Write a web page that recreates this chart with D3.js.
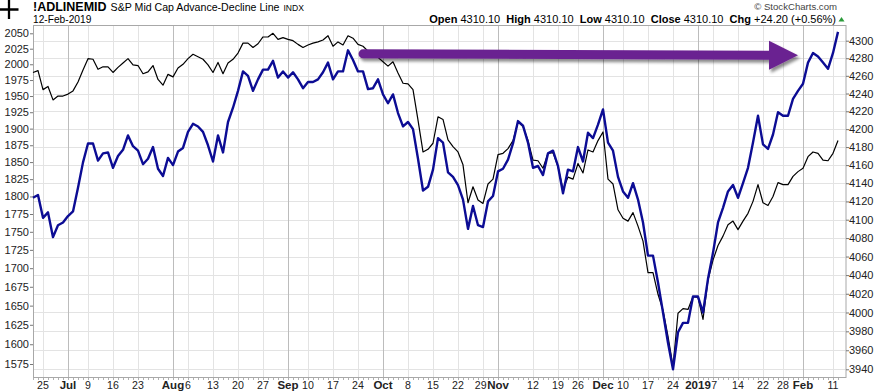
<!DOCTYPE html>
<html lang="en">

<head>
    <meta charset="UTF-8">
    <title>S&P Mid Cap Advance-Decline Line</title>
    <script src="https://cdn.jsdelivr.net/npm/d3@7"></script>
    <style>
        body { margin: 0; background: #fff; }
        svg { display: block; font-family: Arial, "Liberation Sans", sans-serif; }
    </style>
</head>

<body>
    <svg id="chart" width="878" height="392"></svg>

    <script>
        // trading calendar (NYSE closed on these weekdays)
        var firstDay = "2018-06-21";
        var lastDay = "2019-02-12";
        var holidays = ["2018-07-04", "2018-09-03", "2018-11-22", "2018-12-05",
            "2018-12-25", "2019-01-01", "2019-01-21"];

        // S&P MidCap 400 close, left axis (black)
        var midPrice = [1987, 1990, 1960, 1965, 1944, 1950, 1950, 1953, 1958, 1972,
            1991, 2009, 2008, 1992, 1996, 1996, 1987, 1995, 2002, 2009,
            1999, 1998, 1985, 1988, 1998, 1976, 1967, 1984, 1980, 1994,
            2000, 2009, 2016, 2012, 2008, 1999, 1987, 2003, 1985, 2002,
            2008, 2018, 2034, 2034, 2027, 2033, 2044, 2044, 2050, 2040,
            2043, 2040, 2038, 2032, 2027, 2031, 2034, 2036, 2039, 2046,
            2029, 2036, 2031, 2046, 2042, 2032, 2029, 2021, 2016, 2011,
            2004, 1997, 2004, 1986, 1970, 1969, 1960, 1913, 1865, 1869,
            1878, 1918, 1914, 1883, 1873, 1865, 1846, 1791, 1814, 1795,
            1790, 1818, 1825, 1861, 1863, 1870, 1882, 1910, 1903, 1882,
            1853, 1852, 1841, 1863, 1864, 1843, 1810, 1828, 1825, 1848,
            1834, 1868, 1865, 1882, 1895, 1825, 1818, 1781, 1769, 1765,
            1777, 1758, 1737, 1694, 1694, 1665, 1644, 1610, 1572, 1640,
            1646, 1645, 1662, 1661, 1632, 1684, 1711, 1731, 1744, 1760,
            1765, 1753, 1765, 1776, 1793, 1817, 1791, 1787, 1800, 1820,
            1817, 1817, 1829, 1836, 1841, 1858, 1865, 1863, 1853, 1852,
            1863, 1882];

        // !ADLINEMID, right axis (blue)
        var adLine = [4124, 4127, 4102, 4108, 4081, 4094, 4097, 4104, 4109, 4135,
            4163, 4184, 4184, 4165, 4173, 4174, 4157, 4170, 4177, 4193,
            4181, 4176, 4161, 4167, 4180, 4156, 4148, 4168, 4160, 4175,
            4179, 4197, 4206, 4203, 4197, 4182, 4164, 4193, 4174, 4208,
            4224, 4243, 4265, 4260, 4243, 4256, 4267, 4267, 4277, 4258,
            4265, 4258, 4264, 4256, 4246, 4253, 4253, 4256, 4264, 4275,
            4256, 4265, 4265, 4289, 4278, 4265, 4265, 4245, 4246, 4256,
            4239, 4229, 4239, 4218, 4203, 4208, 4200, 4167, 4132, 4136,
            4155, 4190, 4185, 4152, 4147, 4138, 4122, 4090, 4115, 4094,
            4092, 4120, 4126, 4153, 4156, 4166, 4184, 4209, 4204, 4185,
            4157, 4159, 4149, 4173, 4176, 4159, 4129, 4155, 4153, 4180,
            4164, 4196, 4190, 4205, 4222, 4185, 4176, 4147, 4131, 4124,
            4140, 4122, 4097, 4061, 4061, 4032, 4000, 3968, 3940, 3979,
            3989, 3989, 4017, 4017, 4000, 4036, 4064, 4097, 4113, 4131,
            4138, 4124, 4140, 4157, 4185, 4215, 4183, 4178, 4194, 4219,
            4215, 4215, 4234, 4243, 4251, 4275, 4286, 4282, 4275, 4268,
            4286, 4310.1];

        var leftTicks = [1575, 1600, 1625, 1650, 1675, 1700, 1725, 1750, 1775, 1800,
            1825, 1850, 1875, 1900, 1925, 1950, 1975, 2000, 2025, 2050];
        var rightTicks = [3940, 3960, 3980, 4000, 4020, 4040, 4060, 4080, 4100, 4120,
            4140, 4160, 4180, 4200, 4220, 4240, 4260, 4280, 4300];

        // [date, label, month start?]
        var dateTicks = [
            ["2018-06-25", "25", 0], ["2018-07-02", "Jul", 1], ["2018-07-09", "9", 0],
            ["2018-07-16", "16", 0], ["2018-07-23", "23", 0], ["2018-08-01", "Aug", 1],
            ["2018-08-06", "6", 0], ["2018-08-13", "13", 0], ["2018-08-20", "20", 0],
            ["2018-08-27", "27", 0], ["2018-09-04", "Sep", 1], ["2018-09-10", "10", 0],
            ["2018-09-17", "17", 0], ["2018-09-24", "24", 0], ["2018-10-01", "Oct", 1],
            ["2018-10-08", "8", 0], ["2018-10-15", "15", 0], ["2018-10-22", "22", 0],
            ["2018-10-29", "29", 0], ["2018-11-01", "Nov", 1], ["2018-11-12", "12", 0],
            ["2018-11-19", "19", 0], ["2018-11-26", "26", 0], ["2018-12-03", "Dec", 1],
            ["2018-12-10", "10", 0], ["2018-12-17", "17", 0], ["2018-12-24", "24", 0],
            ["2019-01-02", "2019", 1], ["2019-01-07", "7", 0], ["2019-01-14", "14", 0],
            ["2019-01-22", "22", 0], ["2019-01-28", "28", 0], ["2019-02-01", "Feb", 1],
            ["2019-02-11", "11", 0]];

        // hand-drawn arrow: from/to date and level on the right axis
        var arrowFrom = "2018-09-25";
        var arrowTo = "2019-01-31";
        var arrowLevels = [4285, 4283.3];

        var parseDay = d3.timeParse("%Y-%m-%d");
        var formatDay = d3.timeFormat("%Y-%m-%d");
        var days = d3.timeDay.range(parseDay(firstDay), d3.timeDay.offset(parseDay(lastDay), 1))
            .filter(d => d.getDay() != 0 && d.getDay() != 6 && holidays.indexOf(formatDay(d)) < 0)
            .map(formatDay);

        var plot = { left: 33, right: 845.5, top: 25, bottom: 377 };

        var svg = d3.select('#chart');

        var x = d3.scaleLinear()
            .domain([0, 162.5])
            .range([plot.left, plot.right]);
        var xDay = d => x(days.indexOf(d));

        var yLeft = d3.scaleLog()
            .domain([1575, 2050])
            .range([364, 33.3]);

        var yRight = d3.scaleLog()
            .domain([3940, 4300])
            .range([369.3, 40.7]);

        var crisp = v => Math.round(v) + 0.5;

        // grid
        var grid = svg.append('g');
        grid.selectAll('.hgrid')
            .data(rightTicks)
            .enter()
            .append('line')
            .attr('x1', plot.left)
            .attr('x2', plot.right)
            .attr('y1', d => crisp(yRight(d)))
            .attr('y2', d => crisp(yRight(d)))
            .attr('stroke', '#e3e3e3');

        grid.selectAll('.vgrid')
            .data(dateTicks)
            .enter()
            .append('line')
            .attr('x1', d => crisp(xDay(d[0])))
            .attr('x2', d => crisp(xDay(d[0])))
            .attr('y1', plot.top)
            .attr('y2', plot.bottom)
            .attr('stroke', d => d[2] ? '#bcbcbc' : '#e3e3e3');

        svg.append('rect')
            .attr('x', plot.left + 0.5)
            .attr('y', plot.top + 0.5)
            .attr('width', plot.right - plot.left)
            .attr('height', plot.bottom - plot.top)
            .attr('fill', 'none')
            .attr('stroke', '#a8a8a8');

        // small daily ticks under the plot
        svg.append('g')
            .selectAll('line')
            .data(days)
            .enter()
            .append('line')
            .attr('x1', d => crisp(xDay(d)))
            .attr('x2', d => crisp(xDay(d)))
            .attr('y1', plot.bottom + 1)
            .attr('y2', plot.bottom + 3)
            .attr('stroke', '#b0b0b0');

        // axes
        var leftAxis = svg.append('g')
            .attr('transform', `translate(${plot.left}, 0)`)
            .call(d3.axisLeft(yLeft).tickValues(leftTicks).tickFormat(d3.format('d')).tickSize(3).tickPadding(1));

        var rightAxis = svg.append('g')
            .attr('transform', `translate(${plot.right + 0.5}, 0)`)
            .call(d3.axisRight(yRight).tickValues(rightTicks).tickFormat(d3.format('d')).tickSize(3).tickPadding(0));

        [leftAxis, rightAxis].forEach(function (g) {
            g.attr('font-family', null).attr('font-size', 11);
            g.select('.domain').remove();
            g.selectAll('.tick line').attr('stroke', '#777');
            g.selectAll('.tick text').attr('fill', '#222');
        });

        var dateLabels = svg.append('g')
            .selectAll('text')
            .data(dateTicks)
            .enter()
            .append('text')
            .attr('x', d => xDay(d[0]))
            .attr('y', 388.5)
            .attr('text-anchor', 'middle')
            .attr('font-size', d => d[2] ? 11.5 : 10.6)
            .attr('font-weight', d => d[2] ? 'bold' : 'normal')
            .attr('fill', '#222')
            .text(d => d[1]);

        // labels that crowd a month label get pushed aside a little
        var nodes = dateLabels.nodes();
        nodes.forEach(function (node, i) {
            if (!i) return;
            var prev = nodes[i - 1].getBBox(), cur = node.getBBox();
            var overlap = prev.x + prev.width + 0.5 - cur.x;
            if (overlap > 0) {
                var weekly = dateTicks[i][2] ? nodes[i - 1] : node;
                var shift = dateTicks[i][2] ? -overlap : overlap;
                d3.select(weekly).attr('x', +d3.select(weekly).attr('x') + shift);
            }
        });

        // series
        var priceLine = d3.line()
            .x((d, i) => x(i))
            .y(d => yLeft(d));

        var adLineLine = d3.line()
            .x((d, i) => x(i))
            .y(d => yRight(d));

        svg.append('path')
            .datum(midPrice)
            .attr('d', priceLine)
            .attr('fill', 'none')
            .attr('stroke', '#000')
            .attr('stroke-width', 1.2)
            .attr('stroke-linejoin', 'round');

        svg.append('path')
            .datum(adLine)
            .attr('d', adLineLine)
            .attr('fill', 'none')
            .attr('stroke', '#0c0c94')
            .attr('stroke-width', 2.4)
            .attr('stroke-linejoin', 'round');

        // arrow annotation
        var defs = svg.append('defs');
        defs.append('filter')
            .attr('id', 'shadow')
            .attr('x', '-5%').attr('y', '-50%')
            .attr('width', '110%').attr('height', '200%')
            .append('feDropShadow')
            .attr('dx', 2).attr('dy', 3)
            .attr('stdDeviation', 1.8)
            .attr('flood-color', '#000')
            .attr('flood-opacity', 0.45);

        var ax0 = xDay(arrowFrom), ax1 = xDay(arrowTo);
        var ay0 = yRight(arrowLevels[0]), ay1 = yRight(arrowLevels[1]);
        var headLen = 29, headHalf = 14.5;
        var baseY = ay0 + (ay1 - ay0) * (ax1 - headLen - ax0) / (ax1 - ax0);

        var arrow = svg.append('g').attr('filter', 'url(#shadow)');
        arrow.append('line')
            .attr('x1', ax0).attr('y1', ay0)
            .attr('x2', ax1 - headLen + 2).attr('y2', baseY)
            .attr('stroke', '#6b2391')
            .attr('stroke-width', 9)
            .attr('stroke-linecap', 'round');
        arrow.append('path')
            .attr('d', `M${ax1 - headLen},${baseY - headHalf}L${ax1},${ay1}L${ax1 - headLen},${baseY + headHalf}Z`)
            .attr('fill', '#6b2391');

        // header
        svg.append('path')
            .attr('d', 'M0,9.5H18.5M9,0V19')
            .attr('stroke', '#000')
            .attr('stroke-width', 2.3);

        var title = svg.append('text')
            .attr('x', 33)
            .attr('y', 10.5)
            .attr('fill', '#000');
        title.append('tspan')
            .attr('font-size', 12.5)
            .attr('font-weight', 'bold')
            .text('!ADLINEMID');
        title.append('tspan')
            .attr('dx', 4)
            .attr('font-size', 10.6)
            .text('S&P Mid Cap Advance-Decline Line');
        title.append('tspan')
            .attr('dx', 4)
            .attr('font-size', 8.6)
            .text('INDX');

        svg.append('text')
            .attr('x', 33)
            .attr('y', 23.3)
            .attr('font-size', 10.2)
            .attr('fill', '#000')
            .text('12-Feb-2019');

        svg.append('text')
            .attr('x', 837)
            .attr('y', 9.5)
            .attr('text-anchor', 'end')
            .attr('font-size', 9.6)
            .attr('fill', '#444')
            .text('\u00a9 StockCharts.com');

        var quote = [["Open", "4310.10"], ["High", "4310.10"], ["Low", "4310.10"],
            ["Close", "4310.10"], ["Chg", "+24.20 (+0.56%)"]];
        var quoteText = svg.append('text')
            .attr('x', 836)
            .attr('y', 23)
            .attr('text-anchor', 'end')
            .attr('font-size', 11)
            .attr('fill', '#000')
            .style('white-space', 'pre');
        quote.forEach(function (q, i) {
            quoteText.append('tspan')
                .attr('font-weight', 'bold')
                .text((i ? '  ' : '') + q[0]);
            quoteText.append('tspan')
                .text(' ' + q[1]);
        });

        svg.append('path')
            .attr('d', 'M838.5,21.5L841.5,17L844.5,21.5Z')
            .attr('fill', '#2b9b3a');
    </script>
</body>

</html>
